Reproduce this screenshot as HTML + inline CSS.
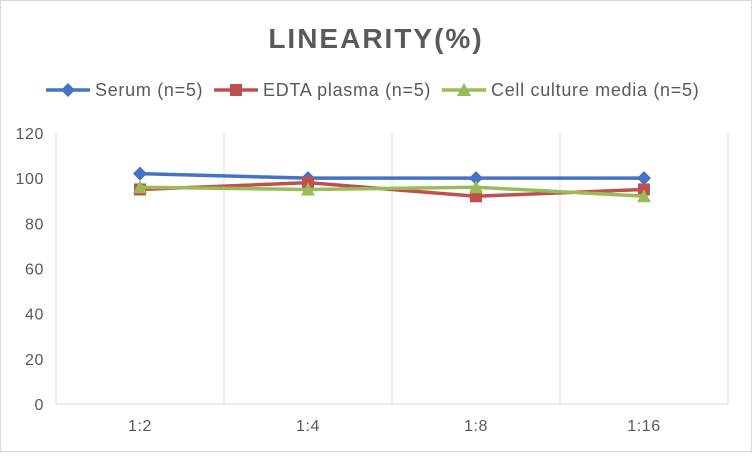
<!DOCTYPE html>
<html><head><meta charset="utf-8"><style>
body{margin:0;background:#fff}
svg text{font-family:"Liberation Sans",sans-serif}
</style></head><body>
<svg width="752" height="452" xmlns="http://www.w3.org/2000/svg">
<rect x="0.5" y="0.5" width="751" height="451" fill="#fff" stroke="#d9d9d9"/>
<text x="376" y="48" text-anchor="middle" font-size="28" font-weight="bold" fill="#595959" letter-spacing="2">LINEARITY(%)</text>
<g id="legend"></g>
<g id="plot"></g>
</svg>
<script>
const categories=["1:2","1:4","1:8","1:16"];
const yTicks=[0,20,40,60,80,100,120];
const serum=[102,100,100,100];
const edta=[95,98,92,95];
const cell=[96,95,96,92];
const seriesNames=["Serum (n=5)","EDTA plasma (n=5)","Cell culture media (n=5)"];
const NS="http://www.w3.org/2000/svg";
const L=56,R=728,T=133,B=404,ymax=120;
const plot=document.getElementById('plot');
const legend=document.getElementById('legend');
function y(v){return B-(v/ymax)*(B-T);}
function x(i){return L+(R-L)/categories.length*(i+0.5);}
function mk(tag,attrs,parent){const e=document.createElementNS(NS,tag);for(const k in attrs)e.setAttribute(k,attrs[k]);parent.appendChild(e);return e;}
yTicks.forEach(t=>{
 const g=mk('line',{x1:L,x2:R,y1:y(t),y2:y(t),stroke:t===0?'#d9d9d9':'none'},plot);
 
 
 const tx=mk('text',{x:44,y:y(t)+6,'text-anchor':'end','font-size':16,fill:'#595959','letter-spacing':0.6},plot);
 tx.textContent=t;
 
 
});
for(let i=0;i<=categories.length;i++){
 const xx=L+(R-L)/categories.length*i;
 const g=mk('line',{x1:xx,x2:xx,y1:T,y2:B,stroke:'#d9d9d9'},plot);
 
 
}
categories.forEach((c,i)=>{
 const tx=mk('text',{x:x(i),y:431,'text-anchor':'middle','font-size':16,fill:'#595959','letter-spacing':0.6},plot);
 tx.textContent=c;
 
 
});
const colors=["#4472c4","#c0504d","#9bbb59"];
function marker(type,cx,cy,col,parent){
 if(type===0) return mk('polygon',{points:`${cx},${cy-7} ${cx+7},${cy} ${cx},${cy+7} ${cx-7},${cy}`,fill:col},parent);
 if(type===1) return mk('rect',{x:cx-6,y:cy-6,width:12,height:12,fill:col},parent);
 return mk('polygon',{points:`${cx},${cy-7} ${cx+7},${cy+6} ${cx-7},${cy+6}`,fill:col},parent);
}
[serum,edta,cell].forEach((s,k)=>{
 const pl=mk('polyline',{points:s.map((v,i)=>x(i)+','+y(v)).join(' '),fill:'none',stroke:colors[k],'stroke-width':3.5},plot);
 
 
 s.forEach((v,i)=>{
  const m=marker(k,x(i),y(v),colors[k],plot);
  
  
 });
});
const lx=[46,214,442];
seriesNames.forEach((n,k)=>{
 const l=mk('line',{x1:lx[k],x2:lx[k]+44,y1:90,y2:90,stroke:colors[k],'stroke-width':3.5},legend);
 
 
 const m=marker(k,lx[k]+22,90,colors[k],legend);
 
 
 const t=mk('text',{x:lx[k]+49,y:96,'font-size':18,fill:'#595959','letter-spacing':0.7},legend);
 t.textContent=n;
 
 
});
</script>
</body></html>
